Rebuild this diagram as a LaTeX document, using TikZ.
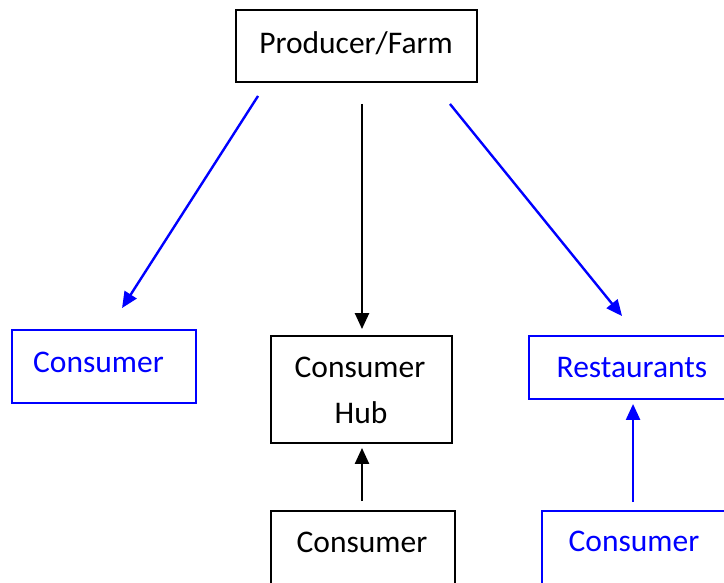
\documentclass[tikz,border=0pt]{standalone}
\usepackage{fontspec}
\setmainfont{Carlito}
\usetikzlibrary{arrows.meta}
\definecolor{linkblue}{RGB}{0,0,255}
\tikzset{
  boxstyle/.style={draw, line width=1.9pt, inner sep=0pt},
  label text/.style={font=\fontsize{31.5}{36}\selectfont, inner sep=0pt, anchor=base},
  flow/.style={line width=2.4pt, -{Triangle[length=16pt,width=14pt]}},
}
\begin{document}
\begin{tikzpicture}[x=1pt, y=-1pt]
  \useasboundingbox (0,0) rectangle (724,582);
  \clip (0,0) rectangle (724,582);

  % boxes
  \node[boxstyle, minimum width=241pt, minimum height=72pt] (prod) at (356.5,46) {};
  \node[boxstyle, draw=linkblue, minimum width=184pt, minimum height=73pt] (lcons) at (104,366.5) {};
  \node[boxstyle, minimum width=181pt, minimum height=107pt] (hub) at (361.5,389.5) {};
  \node[boxstyle, minimum width=184pt, minimum height=90pt] (bcons) at (363,556) {};
  \node[boxstyle, draw=linkblue, minimum width=201pt, minimum height=63pt] (rest) at (629.5,367.5) {};
  \node[boxstyle, draw=linkblue, minimum width=188pt, minimum height=90pt] (rcons) at (636,556) {};

  % labels
  \node[label text] (prodtxt) at (356,53) {Producer/Farm};
  \node[label text, text=linkblue] (lconstxt) at (98.5,372) {Consumer};
  \node[label text] (hubtxta) at (360,377) {Consumer};
  \node[label text] (hubtxtb) at (361,423) {Hub};
  \node[label text] (bconstxt) at (362,552) {Consumer};
  \node[label text, text=linkblue] (resttxt) at (632,377) {Restaurants};
  \node[label text, text=linkblue] (rconstxt) at (634,551) {Consumer};

  % connectors
  \draw[flow, linkblue] ([xshift=23pt,yshift=-13pt]prod.south west) -- ([xshift=111pt,yshift=21pt]lcons.north west);
  \draw[flow] ([xshift=5.5pt,yshift=-21pt]prod.south) -- ([xshift=0.5pt,yshift=6pt]hub.north);
  \draw[flow, linkblue] ([xshift=-28pt,yshift=-21pt]prod.south east) -- ([xshift=94pt,yshift=19pt]rest.north west);
  \draw[flow] ([xshift=-1pt,yshift=9pt]bcons.north) -- ([xshift=0.5pt,yshift=-4pt]hub.south);
  \draw[flow, linkblue] ([xshift=92pt,yshift=8pt]rcons.north west) -- ([xshift=105pt,yshift=-4pt]rest.south west);
\end{tikzpicture}
\end{document}
